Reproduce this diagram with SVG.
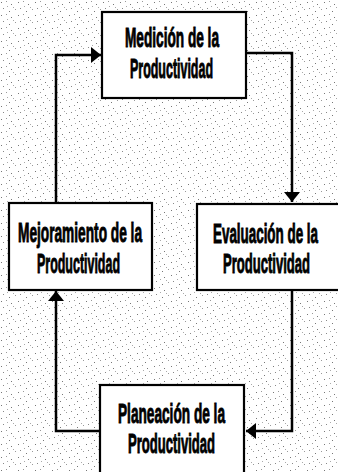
<svg xmlns="http://www.w3.org/2000/svg" width="338" height="472" viewBox="0 0 338 472">
<defs>
<pattern id="noise" width="17" height="13" patternUnits="userSpaceOnUse">
<rect x="1" y="2" width="1" height="1" fill="#777"/>
<rect x="6" y="1" width="1" height="1" fill="#999"/>
<rect x="11" y="4" width="1" height="1" fill="#777"/>
<rect x="15" y="9" width="1" height="1" fill="#999"/>
<rect x="3" y="8" width="1" height="1" fill="#888"/>
<rect x="9" y="11" width="1" height="1" fill="#777"/>
<rect x="13" y="7" width="1" height="1" fill="#aaa"/>
<rect x="7" y="6" width="1" height="1" fill="#aaa"/>
</pattern>
<marker id="ah" viewBox="0 0 10 16" refX="10" refY="8" markerWidth="4" markerHeight="6.4" markerUnits="strokeWidth" orient="auto">
<path d="M0,0 L10,8 L0,16 z" fill="#000"/>
</marker>
</defs>
<style>
.box{fill:#fff;stroke:#000;stroke-width:2.2}
.t{font-family:"Liberation Sans Narrow","Liberation Sans",Arial,sans-serif;font-weight:bold;font-size:28px;fill:#000;stroke:#000;stroke-width:1}
.c{fill:none;stroke:#000;stroke-width:2.5;stroke-linejoin:miter}
</style>
<rect width="338" height="472" fill="#fff"/>
<rect width="338" height="472" fill="url(#noise)"/>
<g id="connectors">
<path class="c" d="M246,53 H292 V202" marker-end="url(#ah)"/>
<path class="c" d="M292,291 V431 H246" marker-end="url(#ah)"/>
<path class="c" d="M100,431 H56 V291" marker-end="url(#ah)"/>
<path class="c" d="M56,203 V55 H101" marker-end="url(#ah)"/>
</g>
<g id="medicion">
<rect class="box" x="102" y="12" width="144" height="86"/>
<text class="t" x="125" y="47" textLength="94" lengthAdjust="spacingAndGlyphs">Medición de la</text>
<text class="t" x="130" y="78" textLength="83" lengthAdjust="spacingAndGlyphs">Productividad</text>
</g>
<g id="mejoramiento">
<rect class="box" x="9" y="203" width="143" height="87"/>
<text class="t" x="18" y="242" textLength="124" lengthAdjust="spacingAndGlyphs">Mejoramiento de la</text>
<text class="t" x="37" y="273" textLength="83" lengthAdjust="spacingAndGlyphs">Productividad</text>
</g>
<g id="evaluacion">
<rect class="box" x="197" y="204" width="150" height="86"/>
<text class="t" x="213" y="243" textLength="105" lengthAdjust="spacingAndGlyphs">Evaluación de la</text>
<text class="t" x="223" y="273" textLength="87" lengthAdjust="spacingAndGlyphs">Productividad</text>
</g>
<g id="planeacion">
<rect class="box" x="100" y="385" width="144" height="100"/>
<text class="t" x="118" y="423" textLength="107" lengthAdjust="spacingAndGlyphs">Planeación de la</text>
<text class="t" x="128" y="453" textLength="87" lengthAdjust="spacingAndGlyphs">Productividad</text>
</g>
</svg>
